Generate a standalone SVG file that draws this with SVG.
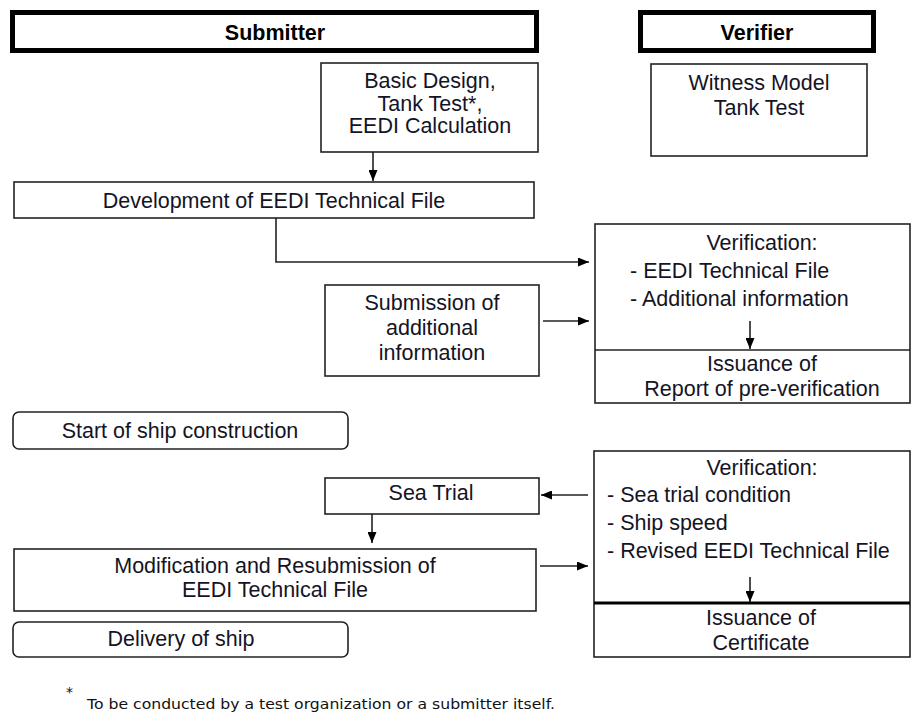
<svg xmlns="http://www.w3.org/2000/svg" width="913" height="713" viewBox="0 0 913 713">
<style>
.box{fill:#fff;stroke:#222;stroke-width:1.6}
.hdr{fill:#fff;stroke:#000;stroke-width:5}
.t{font-family:"Liberation Sans",Arial,sans-serif;font-size:21.5px;fill:#141424}
.c{text-anchor:middle}
.b{font-weight:bold;fill:#000}
.ln{fill:none;stroke:#222;stroke-width:1.6}
.fn{font-family:"DejaVu Sans",Verdana,sans-serif;font-size:14px;fill:#111}
</style>
<defs>
<marker id="ah" markerUnits="userSpaceOnUse" markerWidth="11" markerHeight="9" refX="11" refY="4.5" orient="auto">
<path d="M0,0 L11,4.5 L0,9 z" fill="#000"/>
</marker>
</defs>
<rect width="913" height="713" fill="#fff"/>
<g id="submitter-header">
<rect class="hdr" x="12.5" y="12.5" width="524" height="38"/>
<text class="t c b" x="275" y="40">Submitter</text>
</g>
<g id="verifier-header">
<rect class="hdr" x="640.5" y="12.5" width="233" height="38"/>
<text class="t c b" x="757" y="40">Verifier</text>
</g>
<g id="basic-design">
<rect class="box" x="321" y="63" width="217" height="89"/>
<text class="t c" x="430" y="88">Basic Design,</text>
<text class="t c" x="430" y="110.5">Tank Test*,</text>
<text class="t c" x="430" y="133">EEDI Calculation</text>
</g>
<g id="witness">
<rect class="box" x="651" y="64" width="216" height="92"/>
<text class="t c" x="759" y="90">Witness Model</text>
<text class="t c" x="759" y="115">Tank Test</text>
</g>
<g id="development">
<rect class="box" x="14" y="182" width="520" height="36"/>
<text class="t c" x="274" y="208">Development of EEDI Technical File</text>
</g>
<g id="verification-1">
<rect class="box" x="595" y="224" width="315" height="179"/>
<line class="ln" x1="595" y1="350" x2="910" y2="350"/>
<text class="t c" x="762" y="250">Verification:</text>
<text class="t" x="630" y="278">- EEDI Technical File</text>
<text class="t" x="630" y="306">- Additional information</text>
<text class="t c" x="762" y="371">Issuance of</text>
<text class="t c" x="762" y="396">Report of pre-verification</text>
</g>
<g id="submission">
<rect class="box" x="325" y="285" width="214" height="91"/>
<text class="t c" x="432" y="310">Submission of</text>
<text class="t c" x="432" y="335">additional</text>
<text class="t c" x="432" y="360">information</text>
</g>
<g id="start-construction">
<rect class="box" x="13" y="412" width="335" height="37" rx="6"/>
<text class="t c" x="180" y="438">Start of ship construction</text>
</g>
<g id="verification-2">
<rect class="box" x="594" y="451" width="316" height="206"/>
<line x1="594" y1="603" x2="910" y2="603" stroke="#000" stroke-width="3"/>
<text class="t c" x="762" y="475">Verification:</text>
<text class="t" x="607" y="502">- Sea trial condition</text>
<text class="t" x="607" y="530">- Ship speed</text>
<text class="t" x="607" y="558">- Revised EEDI Technical File</text>
<text class="t c" x="761" y="625">Issuance of</text>
<text class="t c" x="761" y="650">Certificate</text>
</g>
<g id="sea-trial">
<rect class="box" x="325" y="478" width="214" height="36"/>
<text class="t c" x="431" y="500">Sea Trial</text>
</g>
<g id="modification">
<rect class="box" x="14" y="549" width="522" height="62"/>
<text class="t c" x="275" y="573">Modification and Resubmission of</text>
<text class="t c" x="275" y="597">EEDI Technical File</text>
</g>
<g id="delivery">
<rect class="box" x="13" y="622" width="335" height="35" rx="6"/>
<text class="t c" x="181" y="646">Delivery of ship</text>
</g>
<g id="connectors">
<line class="ln" x1="373" y1="152" x2="373" y2="181" marker-end="url(#ah)"/>
<polyline class="ln" points="276,218 276,262 589,262" marker-end="url(#ah)"/>
<line class="ln" x1="543" y1="321" x2="589" y2="321" marker-end="url(#ah)"/>
<line class="ln" x1="750" y1="321" x2="750" y2="349" marker-end="url(#ah)"/>
<line class="ln" x1="588" y1="495" x2="541" y2="495" marker-end="url(#ah)"/>
<line class="ln" x1="372" y1="514" x2="372" y2="543" marker-end="url(#ah)"/>
<line class="ln" x1="540" y1="566" x2="588" y2="566" marker-end="url(#ah)"/>
<line class="ln" x1="750" y1="577" x2="750" y2="602" marker-end="url(#ah)"/>
</g>
<g id="footnote">
<text class="fn" x="66" y="697" font-size="9">*</text>
<text class="fn" x="87" y="709" textLength="468" lengthAdjust="spacingAndGlyphs">To be conducted by a test organization or a submitter itself.</text>
</g>
</svg>
